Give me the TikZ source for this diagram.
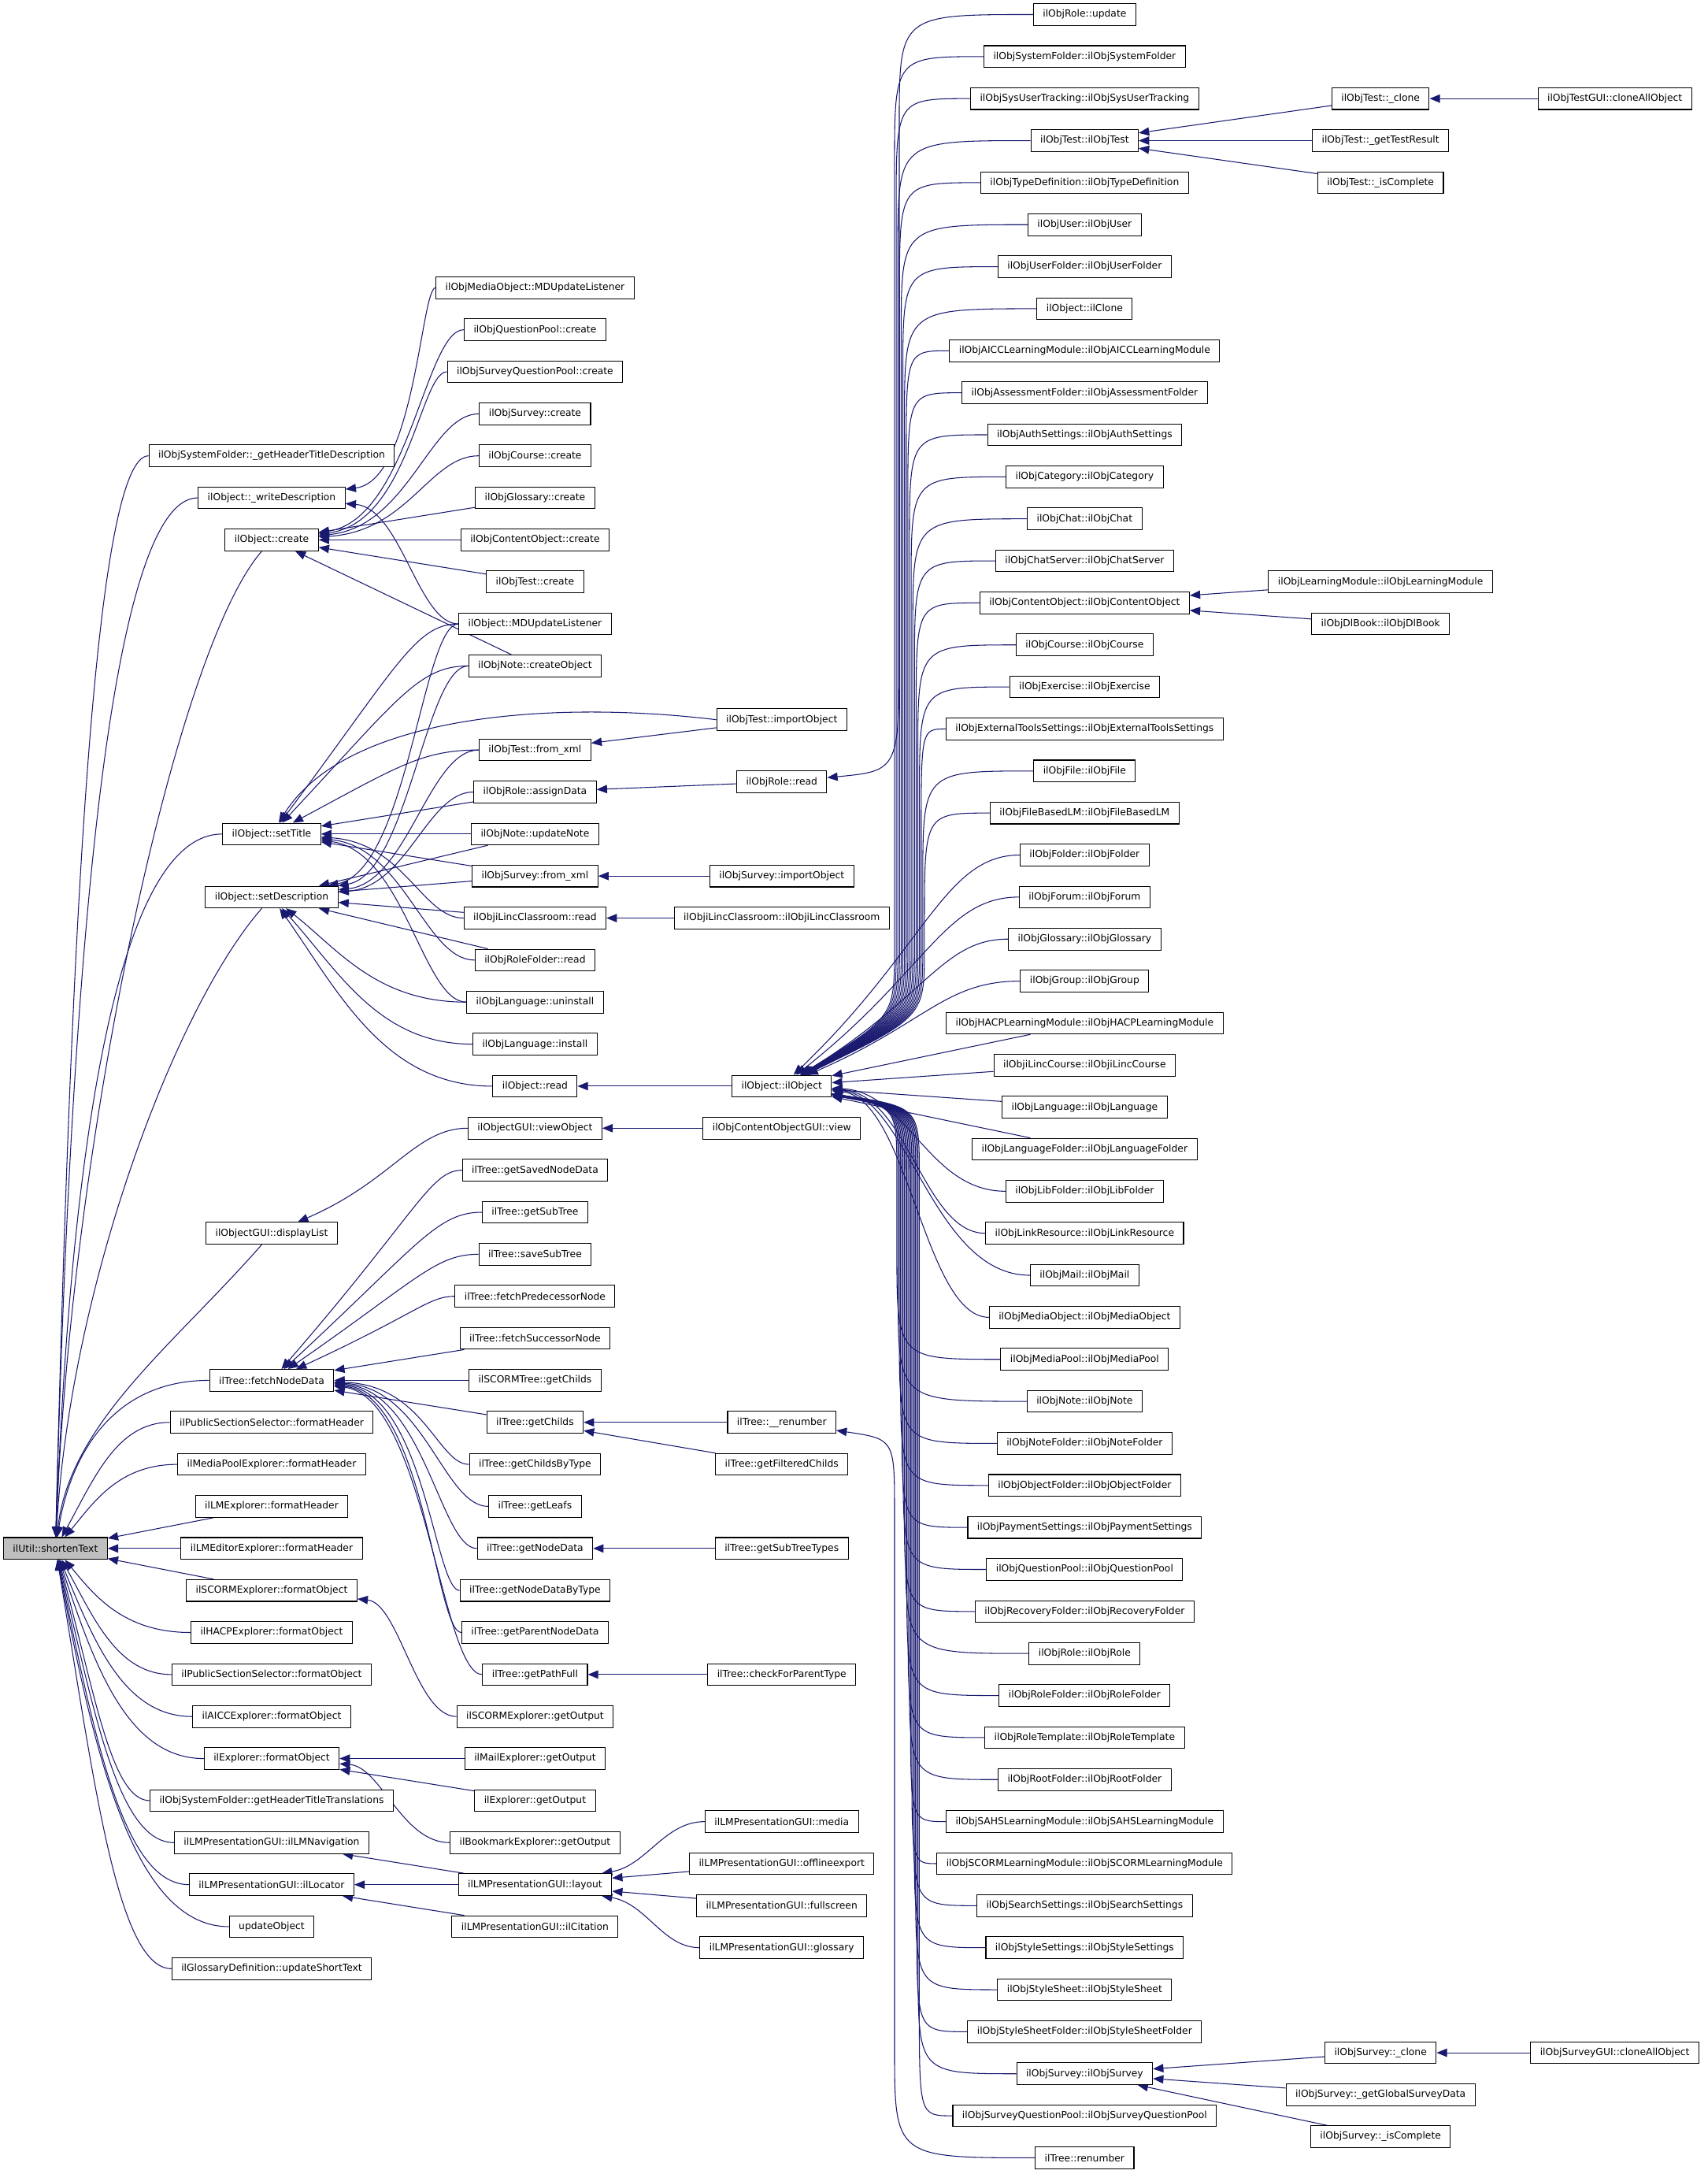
\documentclass[tikz,border=0pt]{standalone}
\usepackage{fontspec}
\setmainfont{DejaVu Sans}
\usepackage{xcolor}
\usetikzlibrary{calc, arrows.meta, backgrounds}

\definecolor{edgeblue}{RGB}{25,25,112}
\definecolor{rootgray}{RGB}{191,191,191}

% call edge: arrow at the callee (#4), curve bends into the left side of the caller (#5)
\NewDocumentCommand\calls{O{50} O{0.6} O{0.3} m m}{%
  \draw[call] let \p1=(#4.east), \p2=(#5.west) in
    (#4) .. controls ({\x1+(#1pt)},{\y1+#2*(\y2-\y1)})
              and ({\x1+(#1pt)+#3*(\x2-\x1-(#1pt))},\y2) .. (#5.west);}
% same, but the curve enters the caller from below
\newcommand\callsup[2]{%
  \draw[call] let \p1=(#1.east), \p2=(#2.center) in
    (#1) .. controls ({\x1-27pt},{\y1+0.4*(\y2-\y1)})
              and ({\x2-70pt},{\y2-80pt}) .. (#2);}
% long edges: rise (or drop) straight at x = east + #2, then turn into the caller
\NewDocumentCommand\bendup{O{50} m m m}{%
  \draw[call] let \p1=(#3.east), \p2=(#4.west), \n1={\x1+(#2pt)} in
    (#3) .. controls (\n1,{\y1+#1pt}) .. (\n1,{\y1+100pt})
      -- (\n1,{\y2-80pt}) .. controls (\n1,\y2) .. (#4.west);}
\NewDocumentCommand\benddown{O{15} m m m}{%
  \draw[call] let \p1=(#3.east), \p2=(#4.west), \n1={\x1+(#2pt)} in
    (#3) .. controls (\n1,{\y1-#1pt}) .. (\n1,{\y1-65pt})
      -- (\n1,{\y2+80pt}) .. controls (\n1,\y2) .. (#4.west);}

\begin{document}
\begin{tikzpicture}[x=1pt, y=-30.31pt, >={Triangle[length=7.5pt,width=6pt]},
    fn/.style={draw, line width=0.6pt, fill=white, inner xsep=6.8pt, inner ysep=0pt,
      minimum height=15.7pt, font=\fontsize{7}{8}\selectfont},
    root/.style={fn, fill=rootgray},
    call/.style={<-, draw=edgeblue, line width=0.6pt}]
    \useasboundingbox (0,-0.3464) rectangle (1232,51.386);

    % Hàm gốc
    \node[root] (st) at (40,36.5) {ilUtil::shortenText};

    % Cột 1
    \foreach \nm/\rw/\lbl in {
        hdrdesc/10.5/ilObjSystemFolder::\_getHeaderTitleDescription,
        wdesc/11.5/ilObject::\_writeDescription,
        create/12.5/ilObject::create,
        settitle/19.5/ilObject::setTitle,
        setdesc/21/ilObject::setDescription,
        displist/29/ilObjectGUI::displayList,
        fetch/32.5/ilTree::fetchNodeData,
        pssfh/33.5/ilPublicSectionSelector::formatHeader,
        mpefh/34.5/ilMediaPoolExplorer::formatHeader,
        lmefh/35.5/ilLMExplorer::formatHeader,
        lmeefh/36.5/ilLMEditorExplorer::formatHeader,
        scormfo/37.5/ilSCORMExplorer::formatObject,
        hacpfo/38.5/ilHACPExplorer::formatObject,
        pssfo/39.5/ilPublicSectionSelector::formatObject,
        aiccfo/40.5/ilAICCExplorer::formatObject,
        explfo/41.5/ilExplorer::formatObject,
        hdrtrans/42.5/ilObjSystemFolder::getHeaderTitleTranslations,
        lmnav/43.5/ilLMPresentationGUI::ilLMNavigation,
        locator/44.5/ilLMPresentationGUI::ilLocator,
        updobj/45.5/updateObject,
        glossdef/46.5/ilGlossaryDefinition::updateShortText}
        \node[fn] (\nm) at (196,\rw) {\lbl};

    % Cột 2
    \foreach \nm/\rw/\lbl in {
        mombd/6.5/ilObjMediaObject::MDUpdateListener,
        qpcreate/7.5/ilObjQuestionPool::create,
        sqpcreate/8.5/ilObjSurveyQuestionPool::create,
        svcreate/9.5/ilObjSurvey::create,
        crscreate/10.5/ilObjCourse::create,
        glocreate/11.5/ilObjGlossary::create,
        cocreate/12.5/ilObjContentObject::create,
        tstcreate/13.5/ilObjTest::create,
        objmd/14.5/ilObject::MDUpdateListener,
        notecreate/15.5/ilObjNote::createObject,
        tstxml/17.5/ilObjTest::from\_xml,
        roleassign/18.5/ilObjRole::assignData,
        noteupd/19.5/ilObjNote::updateNote,
        svxml/20.5/ilObjSurvey::from\_xml,
        lincread/21.5/ilObjiLincClassroom::read,
        rfread/22.5/ilObjRoleFolder::read,
        languninst/23.5/ilObjLanguage::uninstall,
        langinst/24.5/ilObjLanguage::install,
        objread/25.5/ilObject::read,
        viewobj/26.5/ilObjectGUI::viewObject,
        savednd/27.5/ilTree::getSavedNodeData,
        subtree/28.5/ilTree::getSubTree,
        savesub/29.5/ilTree::saveSubTree,
        pred/30.5/ilTree::fetchPredecessorNode,
        succ/31.5/ilTree::fetchSuccessorNode,
        scormch/32.5/ilSCORMTree::getChilds,
        childs/33.5/ilTree::getChilds,
        childstype/34.5/ilTree::getChildsByType,
        leafs/35.5/ilTree::getLeafs,
        nodedata/36.5/ilTree::getNodeData,
        ndtype/37.5/ilTree::getNodeDataByType,
        parentnd/38.5/ilTree::getParentNodeData,
        pathfull/39.5/ilTree::getPathFull,
        scormout/40.5/ilSCORMExplorer::getOutput,
        mailout/41.5/ilMailExplorer::getOutput,
        explout/42.5/ilExplorer::getOutput,
        bmout/43.5/ilBookmarkExplorer::getOutput,
        layout/44.5/ilLMPresentationGUI::layout,
        citation/45.5/ilLMPresentationGUI::ilCitation}
        \node[fn] (\nm) at (386,\rw) {\lbl};

    % Cột 3
    \foreach \nm/\rw/\lbl in {
        tstimp/16.78/ilObjTest::importObject,
        roleread/18.26/ilObjRole::read,
        svimp/20.5/ilObjSurvey::importObject,
        lincobj/21.5/ilObjiLincClassroom::ilObjiLincClassroom,
        ilobj/25.5/ilObject::ilObject,
        coview/26.5/ilObjContentObjectGUI::view,
        renum/33.5/ilTree::\_\_renumber,
        filtered/34.5/ilTree::getFilteredChilds,
        subtypes/36.5/ilTree::getSubTreeTypes,
        parenttype/39.5/ilTree::checkForParentType,
        lmmedia/43/ilLMPresentationGUI::media,
        offline/44/ilLMPresentationGUI::offlineexport,
        fullscr/45/ilLMPresentationGUI::fullscreen,
        lmgloss/46/ilLMPresentationGUI::glossary}
        \node[fn] (\nm) at (564,\rw) {\lbl};

    % Cột 4
    \foreach \nm/\lbl [count=\k from 0] in {
        role/ilObjRole::update,
        sysf/ilObjSystemFolder::ilObjSystemFolder,
        sut/ilObjSysUserTracking::ilObjSysUserTracking,
        tst/ilObjTest::ilObjTest,
        typedef/ilObjTypeDefinition::ilObjTypeDefinition,
        user/ilObjUser::ilObjUser,
        userf/ilObjUserFolder::ilObjUserFolder,
        clone/ilObject::ilClone,
        aicc/ilObjAICCLearningModule::ilObjAICCLearningModule,
        assf/ilObjAssessmentFolder::ilObjAssessmentFolder,
        auth/ilObjAuthSettings::ilObjAuthSettings,
        cat/ilObjCategory::ilObjCategory,
        chat/ilObjChat::ilObjChat,
        chats/ilObjChatServer::ilObjChatServer,
        co/ilObjContentObject::ilObjContentObject,
        crs/ilObjCourse::ilObjCourse,
        exc/ilObjExercise::ilObjExercise,
        ext/ilObjExternalToolsSettings::ilObjExternalToolsSettings,
        file/ilObjFile::ilObjFile,
        fblm/ilObjFileBasedLM::ilObjFileBasedLM,
        fold/ilObjFolder::ilObjFolder,
        frm/ilObjForum::ilObjForum,
        glo/ilObjGlossary::ilObjGlossary,
        grp/ilObjGroup::ilObjGroup,
        hacp/ilObjHACPLearningModule::ilObjHACPLearningModule,
        linccrs/ilObjiLincCourse::ilObjiLincCourse,
        lng/ilObjLanguage::ilObjLanguage,
        lngf/ilObjLanguageFolder::ilObjLanguageFolder,
        libf/ilObjLibFolder::ilObjLibFolder,
        webr/ilObjLinkResource::ilObjLinkResource,
        mail/ilObjMail::ilObjMail,
        mob/ilObjMediaObject::ilObjMediaObject,
        mep/ilObjMediaPool::ilObjMediaPool,
        note/ilObjNote::ilObjNote,
        notf/ilObjNoteFolder::ilObjNoteFolder,
        objf/ilObjObjectFolder::ilObjObjectFolder,
        pays/ilObjPaymentSettings::ilObjPaymentSettings,
        qpl/ilObjQuestionPool::ilObjQuestionPool,
        recf/ilObjRecoveryFolder::ilObjRecoveryFolder,
        rolo/ilObjRole::ilObjRole,
        rolf/ilObjRoleFolder::ilObjRoleFolder,
        rolt/ilObjRoleTemplate::ilObjRoleTemplate,
        rootf/ilObjRootFolder::ilObjRootFolder,
        sahs/ilObjSAHSLearningModule::ilObjSAHSLearningModule,
        scorm/ilObjSCORMLearningModule::ilObjSCORMLearningModule,
        seas/ilObjSearchSettings::ilObjSearchSettings,
        stys/ilObjStyleSettings::ilObjStyleSettings,
        sty/ilObjStyleSheet::ilObjStyleSheet,
        styf/ilObjStyleSheetFolder::ilObjStyleSheetFolder,
        sv/ilObjSurvey::ilObjSurvey,
        spl/ilObjSurveyQuestionPool::ilObjSurveyQuestionPool,
        treerenum/ilTree::renumber}
        \node[fn] (\nm) at (782.5,\k) {\lbl};

    % Cột 5 và 6
    \node[fn] (tstclone) at (996,2) {ilObjTest::\_clone};
    \node[fn] (tstres) at (996,3) {ilObjTest::\_getTestResult};
    \node[fn] (tstcomp) at (996,4) {ilObjTest::\_isComplete};
    \node[fn] (lm) at (996,13.5) {ilObjLearningModule::ilObjLearningModule};
    \node[fn] (dlbook) at (996,14.5) {ilObjDlBook::ilObjDlBook};
    \node[fn] (svclone) at (996,48.5) {ilObjSurvey::\_clone};
    \node[fn] (svdata) at (996,49.5) {ilObjSurvey::\_getGlobalSurveyData};
    \node[fn] (svcomp) at (996,50.5) {ilObjSurvey::\_isComplete};
    \node[fn] (tstgui) at (1165,2) {ilObjTestGUI::cloneAllObject};
    \node[fn] (svgui) at (1165,48.5) {ilObjSurveyGUI::cloneAllObject};

    \begin{pgfonlayer}{background}
    % Các cạnh vào ilUtil::shortenText
    \foreach \nm in {hdrdesc, wdesc, settitle, fetch}
        \calls[-27][0.55]{st}{\nm};
    \foreach \nm in {create, setdesc, displist}
        \callsup{st}{\nm};
    \foreach \nm in {pssfh, mpefh, hacpfo, pssfo, aiccfo, explfo, hdrtrans, lmnav, locator, updobj, glossdef}
        \calls[-10][0.55]{st}{\nm};
    \foreach \nm in {lmefh, lmeefh, scormfo}
        \draw[call] (st) -- (\nm);

    % Cột 1 <- cột 2
    \calls[50][0.08]{wdesc}{mombd};
    \calls[40][0.08]{wdesc}{objmd};
    \foreach \nm in {qpcreate, sqpcreate, svcreate, crscreate}
        \calls[65][0.1]{create}{\nm};
    \foreach \nm in {glocreate, cocreate, tstcreate, notecreate}
        \draw[call] (create) -- (\nm);
    \foreach \nm in {objmd, notecreate, tstxml}
        \calls[55][0.8]{settitle}{\nm};
    \draw[call] (settitle) .. controls (250,16.64) and (400,16.31) .. (tstimp.west);
    \foreach \nm in {roleassign, noteupd, svxml}
        \draw[call] (settitle) -- (\nm);
    \foreach \nm in {lincread, rfread, languninst}
        \calls[60][0.1]{settitle}{\nm};
    \foreach \nm in {objmd, notecreate, tstxml, roleassign}
        \calls[50][0.1]{setdesc}{\nm};
    \foreach \nm in {noteupd, svxml, lincread, rfread}
        \draw[call] (setdesc) -- (\nm);
    \foreach \nm in {languninst, langinst, objread}
        \calls[0][0.5]{setdesc}{\nm};
    \calls[40][0.5]{displist}{viewobj};
    \foreach \nm in {savednd, subtree, savesub, pred}
        \calls[60][0.8]{fetch}{\nm};
    \foreach \nm in {succ, scormch, childs}
        \draw[call] (fetch) -- (\nm);
    \foreach \nm in {childstype, leafs, nodedata, ndtype, parentnd, pathfull}
        \calls[65][0.05]{fetch}{\nm};
    \calls[30][0.1]{scormfo}{scormout};
    \draw[call] (explfo) -- (mailout);
    \draw[call] (explfo) -- (explout);
    \calls[30][0.1]{explfo}{bmout};
    \draw[call] (lmnav) -- (layout);
    \draw[call] (locator) -- (layout);
    \draw[call] (locator) -- (citation);

    % Cột 2 <- cột 3
    \draw[call] (tstxml) -- (tstimp);
    \draw[call] (roleassign) -- (roleread);
    \draw[call] (svxml) -- (svimp);
    \draw[call] (lincread) -- (lincobj);
    \draw[call] (objread) -- (ilobj);
    \draw[call] (viewobj) -- (coview);
    \draw[call] (childs) -- (renum);
    \draw[call] (childs) -- (filtered);
    \draw[call] (nodedata) -- (subtypes);
    \draw[call] (pathfull) -- (parenttype);
    \calls[25][0.3]{layout}{lmmedia};
    \draw[call] (layout) -- (offline);
    \draw[call] (layout) -- (fullscr);
    \calls[25][0.3]{layout}{lmgloss};

    % Cột 3 <- cột 4
    \bendup[8]{52}{roleread}{role};
    \foreach \nm [count=\i, evaluate=\i as \o using 44+1.2*\i] in {sysf, sut, tst, typedef, user,
        userf, clone, aicc, assf, auth, cat, chat, chats, co, crs, exc, ext, file, fblm}
        \bendup{\o}{ilobj}{\nm};
    \foreach \nm in {fold, frm, glo, grp}
        \calls[68][0.6][0.2]{ilobj}{\nm};
    \foreach \nm in {hacp, linccrs, lng, lngf}
        \draw[call] (ilobj) -- (\nm);
    \foreach \nm in {libf, webr, mail, mob}
        \calls[55][0.05][0.2]{ilobj}{\nm};
    \foreach \nm [count=\i, evaluate=\i as \o using 46+0.9*\i] in {mep, note, notf, objf, pays,
        qpl, recf, rolo, rolf, rolt, rootf, sahs, scorm, seas, stys, sty, styf, sv, spl}
        \benddown{\o}{ilobj}{\nm};
    \benddown[12]{42}{renum}{treerenum};

    % Cột 4 <- cột 5 <- cột 6
    \foreach \nm in {tstclone, tstres, tstcomp}
        \draw[call] (tst) -- (\nm);
    \draw[call] (tstclone) -- (tstgui);
    \draw[call] (co) -- (lm);
    \draw[call] (co) -- (dlbook);
    \foreach \nm in {svclone, svdata, svcomp}
        \draw[call] (sv) -- (\nm);
    \draw[call] (svclone) -- (svgui);
    \end{pgfonlayer}
\end{tikzpicture}
\end{document}
